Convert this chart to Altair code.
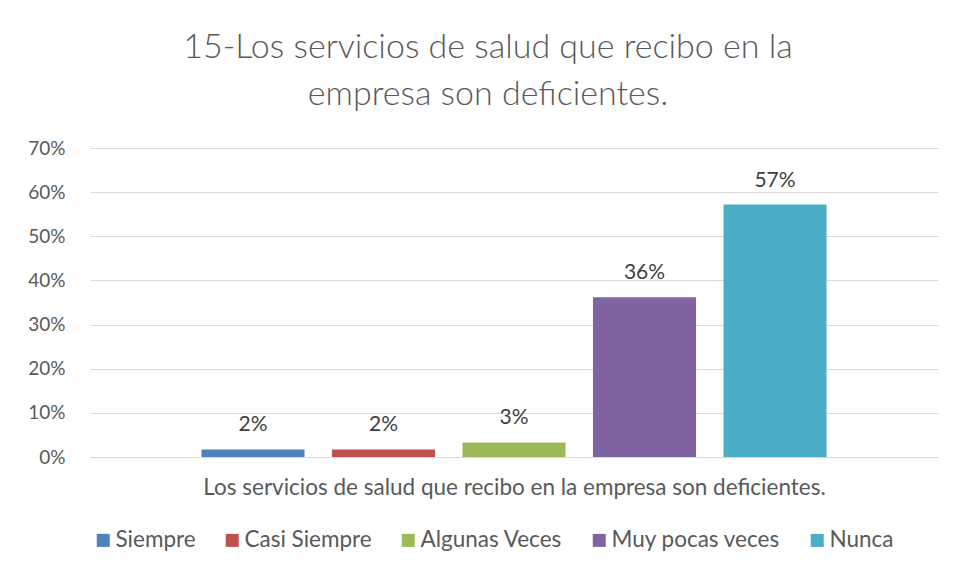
import altair as alt
import pandas as pd

categories = ["Siempre", "Casi Siempre", "Algunas Veces", "Muy pocas veces", "Nunca"]
values = [0.017, 0.017, 0.033, 0.362, 0.572]
colors = ["#4f81bd", "#c0504d", "#9bbb59", "#8064a2", "#4bacc6"]
y_ticks = [0, 0.1, 0.2, 0.3, 0.4, 0.5, 0.6, 0.7]
title_lines = ["15-Los servicios de salud que recibo en la", "empresa son deficientes."]
x_title = "Los servicios de salud que recibo en la empresa son deficientes."

df = pd.DataFrame({"cat": categories, "val": values})

FONT = "Lato"
GRAY = "#595959"

x_enc = alt.X(
    "cat:N",
    sort=categories,
    scale=alt.Scale(paddingInner=0.21, paddingOuter=0.854),
    axis=alt.Axis(
        labels=False, ticks=False, domain=True, domainColor="#d9d9d9",
        title=x_title, titleFont=FONT, titleFontSize=22.5, titleFontWeight="normal",
        titleColor=GRAY, titlePadding=19,
    ),
)
y_enc = alt.Y(
    "val:Q",
    scale=alt.Scale(domain=[0, 0.7]),
    axis=alt.Axis(
        values=y_ticks, format=".0%", labelFont=FONT, labelFontSize=19,
        labelColor=GRAY, labelPadding=25, ticks=False, domain=False,
        gridColor="#d9d9d9", title=None,
    ),
)

bars = alt.Chart(df).mark_bar().encode(
    x=x_enc,
    y=y_enc,
    color=alt.Color(
        "cat:N",
        sort=categories,
        scale=alt.Scale(domain=categories, range=colors),
        legend=alt.Legend(
            title=None, orient="none", direction="horizontal", legendX=2, legendY=381,
            symbolType="square", symbolSize=169, symbolStrokeWidth=0,
            labelFont=FONT, labelFontSize=22.5, labelColor=GRAY, labelLimit=400,
            labelOffset=1, columnPadding=25,
        ),
    ),
)

labels = alt.Chart(df).mark_text(
    baseline="bottom", dy=-14, font=FONT, fontSize=21, color="#404040"
).encode(
    x=alt.X("cat:N", sort=categories),
    y=alt.Y("val:Q"),
    text=alt.Text("val:Q", format=".0%"),
)

chart = (
    alt.layer(bars, labels)
    .properties(
        width=848,
        height=309,
        title=alt.TitleParams(
            text=title_lines, anchor="middle", dx=-26, font=FONT, fontSize=34,
            fontWeight=300, color=GRAY, lineHeight=47, offset=27,
        ),
        autosize=alt.AutoSizeParams(type="none"),
        padding={"left": 82, "top": 140, "right": 12, "bottom": 110},
    )
    .configure(background="white")
    .configure_view(stroke=None)
)

chart.save("out.html", embed_options={"renderer": "svg", "actions": False})
